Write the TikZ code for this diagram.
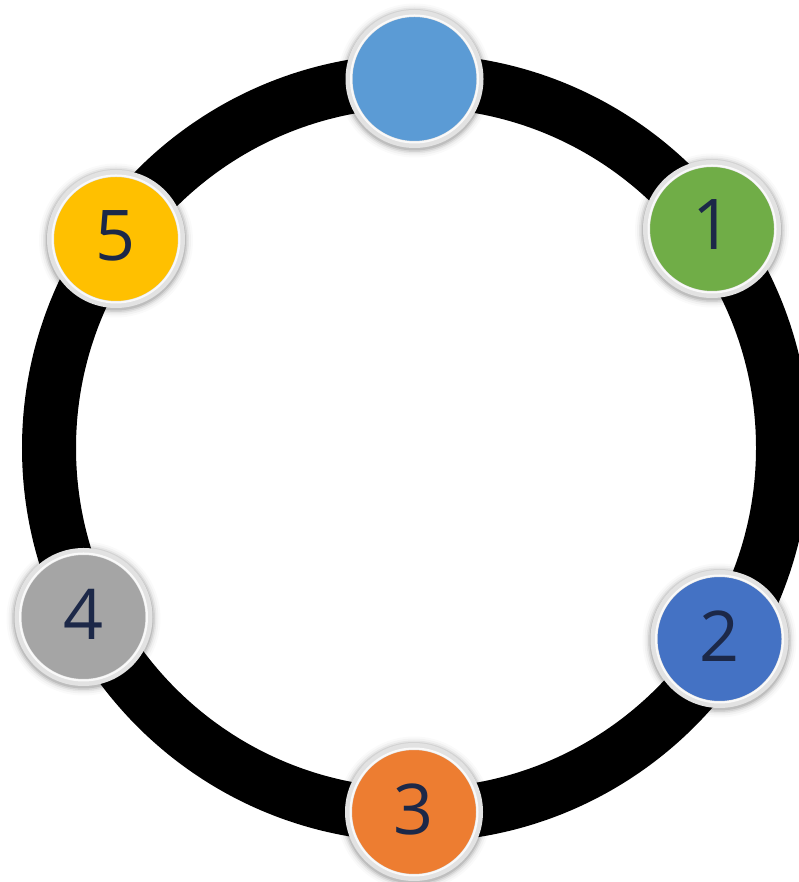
\documentclass[tikz,border=0pt]{standalone}
\usepackage{fontspec}
\setmainfont{Open Sans}
\definecolor{ctop}{HTML}{5B9BD5}
\definecolor{cone}{HTML}{70AD47}
\definecolor{ctwo}{HTML}{4472C4}
\definecolor{cthree}{HTML}{ED7D31}
\definecolor{cfour}{HTML}{A5A5A5}
\definecolor{cfive}{HTML}{FFC000}
\definecolor{txtnavy}{HTML}{1C2848}
\definecolor{rimgray}{HTML}{E2E2E2}
\tikzset{
  bubble/.style={circle, minimum size=131pt, inner sep=0pt, draw=rimgray, line width=7pt},
  digit/.style={inner sep=0pt, text depth=0pt, text=txtnavy, font=\fontsize{70}{84}\selectfont},
  ringline/.style={line width=54pt, draw=black},
}
\begin{document}
\begin{tikzpicture}[x=1pt,y=1pt]
\useasboundingbox (0,0) rectangle (799,882);
\clip (0,0) rectangle (799,882);
\fill[white] (0,0) rectangle (799,882);
\coordinate (c) at (416,434);
\draw[ringline] (c) circle[radius=367];
% soft shadows
\foreach \p in {(414.5,803),(712,653),(719.5,243),(414,70),(83.5,265),(116,643)}{
  \foreach \r/\o in {70/0.10,71.5/0.07,73/0.05,75/0.03,77/0.02}{
    \fill[black, opacity=\o] \p ++(0,-1.5) circle[radius=\r];
  }
}
\node[bubble, fill=ctop]   (n0) at (414.5,803) {};
\node[bubble, fill=cone]   (n1) at (712,653) {};
\node[bubble, fill=ctwo]   (n2) at (719.5,243) {};
\node[bubble, fill=cthree] (n3) at (414,70) {};
\node[bubble, fill=cfour]  (n4) at (83.5,265) {};
\node[bubble, fill=cfive]  (n5) at (116,643) {};
\foreach \n in {n0,n1,n2,n3,n4,n5}{
  \draw[white, opacity=0.8, line width=2pt] (\n.center) circle[radius=63.5];
}
\node[digit] (t1) at ([yshift=4pt]n1.center) {1};
\node[digit] (t2) at ([yshift=3pt]n2.center) {2};
\node[digit] (t3) at ([yshift=3pt]n3.center) {3};
\node[digit] (t4) at ([yshift=3pt]n4.center) {4};
\node[digit] (t5) at ([yshift=3pt]n5.center) {5};
\end{tikzpicture}
\end{document}
